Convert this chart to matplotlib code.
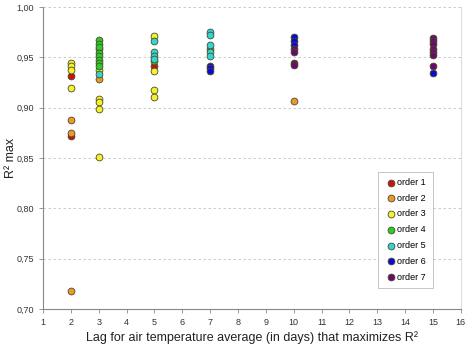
import matplotlib
matplotlib.use("Agg")
import matplotlib.pyplot as plt

plt.rcParams["font.family"] = ["Liberation Sans", "DejaVu Sans"]

# lag (days) and R² max, one pair of lists per polynomial order
order1_x = [2, 2, 5]
order1_y = [0.931, 0.872, 0.941]
order2_x = [2, 2, 2, 3, 10]
order2_y = [0.888, 0.875, 0.718, 0.928, 0.907]
order3_x = [2, 2, 2, 2, 3, 3, 3, 3, 3, 3, 5, 5, 5, 5]
order3_y = [0.944, 0.941, 0.937, 0.919, 0.958, 0.937, 0.909, 0.906,
            0.899, 0.851, 0.971, 0.936, 0.917, 0.911]
order4_x = [3, 3, 3, 3, 3, 3, 3, 3, 5, 7]
order4_y = [0.967, 0.963, 0.960, 0.954, 0.951, 0.947, 0.944, 0.941,
            0.946, 0.958]
order5_x = [3, 5, 5, 5, 5, 7, 7, 7, 7, 7]
order5_y = [0.933, 0.966, 0.955, 0.951, 0.948, 0.975, 0.972, 0.962,
            0.955, 0.951]
order6_x = [7, 7, 7, 10, 10, 10, 15]
order6_y = [0.941, 0.939, 0.936, 0.970, 0.966, 0.962, 0.934]
order7_x = [10, 10, 10, 10, 15, 15, 15, 15, 15, 15, 15]
order7_y = [0.958, 0.955, 0.944, 0.942, 0.969, 0.966, 0.963, 0.958,
            0.955, 0.952, 0.941]

labels = ["order 1", "order 2", "order 3", "order 4",
          "order 5", "order 6", "order 7"]
colors = ["#cc1111", "#e89a2c", "#f4f22c", "#2ccc2c",
          "#33d4d4", "#0a0ad0", "#6a0a6a"]
xs = [order1_x, order2_x, order3_x, order4_x, order5_x, order6_x, order7_x]
ys = [order1_y, order2_y, order3_y, order4_y, order5_y, order6_y, order7_y]

fig = plt.figure(figsize=(4.69, 3.46), dpi=100)
ax = fig.add_axes([0.0917, 0.107, 0.891, 0.873])

for x, y, c, lab in zip(xs, ys, colors, labels):
    ax.scatter(x, y, s=24, color=c, edgecolors="#4a4a2a", linewidths=0.6,
               label=lab, zorder=3)

ax.set_xlim(1, 16)
ax.set_ylim(0.70, 1.00)
ax.set_xticks(range(1, 17))
ax.set_yticks([0.70, 0.75, 0.80, 0.85, 0.90, 0.95, 1.00])
ax.set_yticklabels([f"{v:.2f}".replace(".", ",") for v in ax.get_yticks()])
ax.tick_params(labelsize=6.5, colors="#333333", length=3, width=0.6,
               color="#888888")

ax.yaxis.grid(True, linestyle=(0, (3, 3)), color="#c4c4c4", linewidth=0.6)
ax.set_axisbelow(True)
for side in ("left", "bottom"):
    ax.spines[side].set_color("#888888")
    ax.spines[side].set_linewidth(0.8)
ax.spines["top"].set_visible(False)
ax.spines["right"].set_color("#dddddd")
ax.spines["right"].set_linewidth(0.8)

ax.set_xlabel("Lag for air temperature average (in days) that maximizes R²",
              fontsize=9, color="#222222", labelpad=3)
ax.set_ylabel("R² max", fontsize=9, color="#222222")
ax.yaxis.set_label_coords(-0.063, 0.5)

leg = ax.legend(loc="lower right", bbox_to_anchor=(0.943, 0.055),
                fontsize=6.5, frameon=True, fancybox=False,
                handletextpad=0.0, borderpad=0.7, labelspacing=0.75,
                markerscale=1.0, handlelength=1.5)
leg.get_frame().set_edgecolor("#aaaaaa")
leg.get_frame().set_linewidth(0.6)

fig.savefig("out.png", dpi=100)
